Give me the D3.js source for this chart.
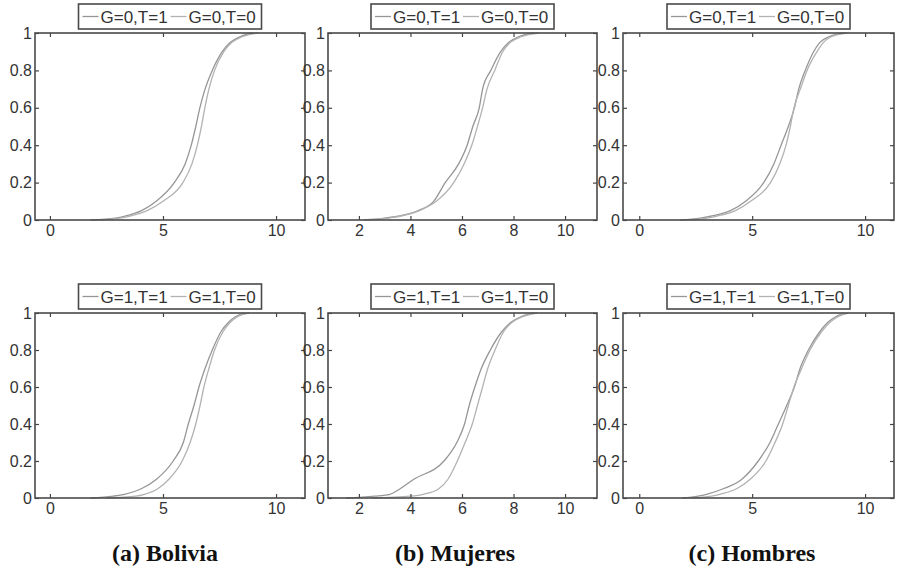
<!DOCTYPE html>
<html>
<head>
<meta charset="utf-8">
<script src="https://cdn.jsdelivr.net/npm/d3@7"></script>
<style>
	body { margin: 0; background: #fff; }
	svg { display: block; }
	.tick text { font-family: "Liberation Sans", Arial, sans-serif; font-size: 16px; fill: #333; }
	.tick line { stroke: #444; stroke-width: 1.2; }
</style>
</head>
<body>
<svg id="chart" width="897" height="568"></svg>
<script>
// CDF levels shared by every curve
const levels = [0, 0.01, 0.02, 0.05, 0.1, 0.2, 0.3, 0.4, 0.5, 0.6, 0.7, 0.8, 0.9, 0.95, 0.98, 1];

// x values at each level
const bolivia_g0_t1 = [1.8, 2.9, 3.3, 4.05, 4.7, 5.5, 5.98, 6.25, 6.45, 6.63, 6.86, 7.18, 7.62, 7.98, 8.4, 9.0];
const bolivia_g0_t0 = [2.2, 3.1, 3.5, 4.3, 5.0, 5.88, 6.28, 6.52, 6.7, 6.85, 7.03, 7.28, 7.69, 8.05, 8.5, 9.2];
const mujeres_g0_t1 = [2.2, 3.0, 3.5, 4.3, 4.9, 5.35, 5.87, 6.2, 6.42, 6.67, 6.8, 7.12, 7.5, 7.82, 8.2, 8.8];
const mujeres_g0_t0 = [2.4, 3.1, 3.6, 4.35, 5.0, 5.68, 6.08, 6.38, 6.6, 6.8, 6.97, 7.27, 7.58, 7.88, 8.3, 9.0];
const hombres_g0_t1 = [1.8, 2.7, 3.16, 4.04, 4.71, 5.51, 5.96, 6.28, 6.6, 6.87, 7.06, 7.35, 7.72, 8.0, 8.4, 9.05];
const hombres_g0_t0 = [2.2, 3.0, 3.4, 4.26, 4.93, 5.81, 6.22, 6.5, 6.69, 6.85, 7.13, 7.43, 7.87, 8.16, 8.5, 9.2];

const bolivia_g1_t1 = [1.8, 2.8, 3.3, 4.04, 4.7, 5.45, 5.9, 6.12, 6.37, 6.59, 6.86, 7.18, 7.57, 7.9, 8.2, 8.6];
const bolivia_g1_t0 = [2.5, 3.8, 4.18, 4.77, 5.25, 5.85, 6.2, 6.45, 6.64, 6.81, 7.03, 7.28, 7.66, 7.98, 8.3, 8.8];
const mujeres_g1_t1 = [1.5, 2.6, 3.2, 3.6, 4.12, 5.3, 5.8, 6.1, 6.28, 6.5, 6.75, 7.1, 7.55, 7.9, 8.3, 8.8];
const mujeres_g1_t0 = [2.5, 4.0, 4.5, 5.1, 5.45, 5.82, 6.12, 6.4, 6.6, 6.8, 7.0, 7.28, 7.62, 7.95, 8.35, 8.92];
const hombres_g1_t1 = [1.9, 2.6, 2.98, 3.72, 4.53, 5.27, 5.79, 6.16, 6.53, 6.87, 7.12, 7.49, 8.0, 8.35, 8.7, 9.05];
const hombres_g1_t0 = [2.3, 3.2, 3.57, 4.31, 4.9, 5.61, 6.01, 6.35, 6.6, 6.85, 7.19, 7.56, 8.08, 8.45, 8.8, 9.26];

const legend_g0 = ["G=0,T=1", "G=0,T=0"];
const legend_g1 = ["G=1,T=1", "G=1,T=0"];
const yTicks = [0, 0.2, 0.4, 0.6, 0.8, 1];
const xTicksWide = [0, 5, 10];
const xTicksMujeres = [2, 4, 6, 8, 10];
const captions = ["(a) Bolivia", "(b) Mujeres", "(c) Hombres"];

const svg = d3.select("#chart");
const lineColors = ["#969696", "#b2b2b2"];

// column boxes and x domains
const columns = [
	{ left: 35, right: 305, domain: [-0.66, 11.28], ticks: xTicksWide, cap: 165 },
	{ left: 328, right: 597, domain: [0.8, 11.24], ticks: xTicksMujeres, cap: 455 },
	{ left: 623, right: 894, domain: [-0.72, 11.28], ticks: xTicksWide, cap: 752 },
];
const rows = [
	{ top: 33, bottom: 220, legendTop: 4, labels: legend_g0, series: [[bolivia_g0_t1, bolivia_g0_t0], [mujeres_g0_t1, mujeres_g0_t0], [hombres_g0_t1, hombres_g0_t0]] },
	{ top: 313, bottom: 498, legendTop: 284, labels: legend_g1, series: [[bolivia_g1_t1, bolivia_g1_t0], [mujeres_g1_t1, mujeres_g1_t0], [hombres_g1_t1, hombres_g1_t0]] },
];

rows.forEach((row) => {
	columns.forEach((col, ci) => drawPanel(col, row, row.series[ci]));
});

function drawPanel(col, row, series) {
	const x = d3.scaleLinear().domain(col.domain).range([col.left, col.right]);
	const y = d3.scaleLinear().domain([0, 1]).range([row.bottom, row.top]);
	const g = svg.append("g");

	const line = d3
		.line()
		.x((d) => x(d[0]))
		.y((d) => y(d[1]))
		.curve(d3.curveMonotoneX);

	series.forEach((xs, i) => {
		const pts = xs.map((v, k) => [v, levels[k]]);
		g.append("path")
			.attr("d", line(pts))
			.attr("fill", "none")
			.attr("stroke", lineColors[i])
			.attr("stroke-width", 1.3);
	});

	// axes with inward ticks, MATLAB style box
	g.append("g")
		.attr("transform", `translate(0,${row.bottom})`)
		.call(d3.axisBottom(x).tickValues(col.ticks).tickSize(-4).tickPadding(5).tickFormat(d3.format("~g")))
		.call((a) => a.select(".domain").remove());
	g.append("g")
		.attr("transform", `translate(0,${row.top})`)
		.call(d3.axisTop(x).tickValues(col.ticks).tickSize(-4).tickFormat(""))
		.call((a) => a.select(".domain").remove());
	g.append("g")
		.attr("transform", `translate(${col.left},0)`)
		.call(d3.axisLeft(y).tickValues(yTicks).tickSize(-4).tickPadding(3).tickFormat(d3.format("~g")))
		.call((a) => a.select(".domain").remove());
	g.append("g")
		.attr("transform", `translate(${col.right},0)`)
		.call(d3.axisRight(y).tickValues(yTicks).tickSize(-4).tickFormat(""))
		.call((a) => a.select(".domain").remove());

	g.append("rect")
		.attr("x", col.left)
		.attr("y", row.top)
		.attr("width", col.right - col.left)
		.attr("height", row.bottom - row.top)
		.attr("fill", "none")
		.attr("stroke", "#4a4a4a")
		.attr("stroke-width", 1.6);

	// legend box above the panel
	const lw = 183;
	const lx = (col.left + col.right) / 2 - lw / 2;
	const leg = g.append("g").attr("transform", `translate(${lx},${row.legendTop})`);
	leg.append("rect")
		.attr("width", lw)
		.attr("height", 25)
		.attr("fill", "#fff")
		.attr("stroke", "#4a4a4a")
		.attr("stroke-width", 1.6);
	row.labels.forEach((label, i) => {
		const ox = 4 + i * 88;
		leg.append("line")
			.attr("x1", ox)
			.attr("x2", ox + 16)
			.attr("y1", 12.5)
			.attr("y2", 12.5)
			.attr("stroke", lineColors[i])
			.attr("stroke-width", 1.3);
		leg.append("text")
			.attr("x", ox + 18)
			.attr("y", 18.5)
			.text(label)
			.attr("font-family", "Liberation Sans, Arial, sans-serif")
			.attr("font-size", "17px")
			.attr("fill", "#333");
	});
}

// captions below each column
columns.forEach((col, i) => {
	svg.append("text")
		.attr("x", col.cap)
		.attr("y", 561)
		.attr("text-anchor", "middle")
		.text(captions[i])
		.attr("font-family", "Liberation Serif, serif")
		.attr("font-weight", "bold")
		.attr("font-size", "24px")
		.attr("fill", "#111");
});
</script>
</body>
</html>
